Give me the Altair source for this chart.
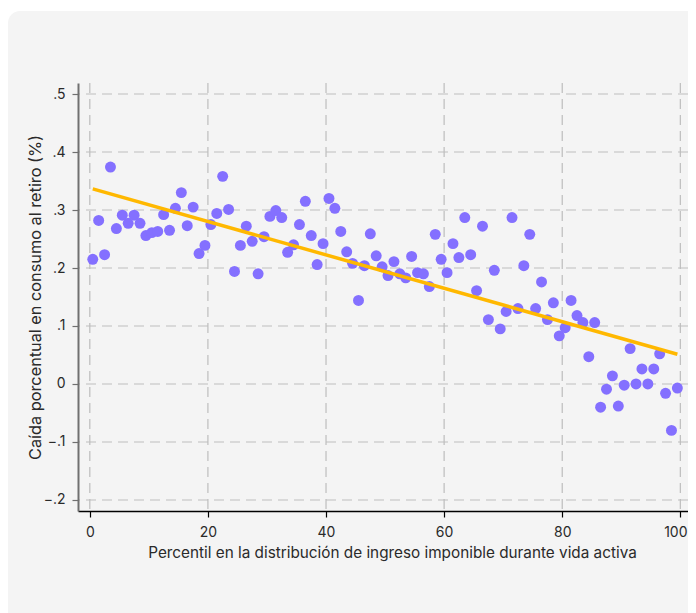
import altair as alt
import pandas as pd

# ---- data ----
percentil = [i + 0.5 for i in range(100)]
caida = [
    0.215, 0.282, 0.223, 0.374, 0.268, 0.291, 0.277, 0.291, 0.277, 0.256,
    0.261, 0.263, 0.292, 0.265, 0.303, 0.330, 0.273, 0.305, 0.225, 0.239,
    0.275, 0.294, 0.358, 0.301, 0.194, 0.239, 0.272, 0.246, 0.190, 0.254,
    0.289, 0.299, 0.287, 0.227, 0.240, 0.275, 0.315, 0.256, 0.206, 0.242,
    0.320, 0.303, 0.263, 0.228, 0.208, 0.144, 0.204, 0.259, 0.221, 0.202,
    0.187, 0.211, 0.190, 0.183, 0.220, 0.192, 0.190, 0.168, 0.258, 0.215,
    0.192, 0.242, 0.218, 0.287, 0.223, 0.161, 0.272, 0.111, 0.196, 0.095,
    0.125, 0.287, 0.130, 0.204, 0.258, 0.130, 0.176, 0.111, 0.140, 0.083,
    0.097, 0.144, 0.118, 0.106, 0.047, 0.106, -0.040, -0.009, 0.014, -0.038,
    -0.002, 0.061, 0.000, 0.026, 0.000, 0.026, 0.052, -0.016, -0.080, -0.007,
]
x_ticks = [0, 20, 40, 60, 80, 100]
y_ticks = [-0.2, -0.1, 0.0, 0.1, 0.2, 0.3, 0.4, 0.5]

x_title = "Percentil en la distribución de ingreso imponible durante vida activa"
y_title = "Caída porcentual en consumo al retiro (%)"

df = pd.DataFrame({"percentil": percentil, "caida": caida})

PAD_L, PAD_T = 70, 75
TOTAL_W, TOTAL_H = 680, 605
W, H = TOTAL_W - PAD_L, 428

FONT = "Inter"
TEXT = "#2a2a2a"

xscale = alt.Scale(domain=[-2, 101.3], nice=False, zero=False)
yscale = alt.Scale(domain=[-0.219, 0.519], nice=False, zero=False)

x_axis = alt.Axis(
    values=x_ticks,
    title=x_title,
    grid=False,
    format="d",
    domainColor="#000000",
    domainWidth=1.5,
    tickColor="#000000",
    tickWidth=1.2,
    tickSize=6,
    labelFont=FONT,
    labelFontSize=14,
    labelColor=TEXT,
    labelPadding=8,
    labelOffset={"condition": {"test": "datum.value == 100", "value": -5}, "value": 0},
    titleFont=FONT,
    titleFontSize=15.3,
    titleFontWeight="normal",
    titleColor=TEXT,
    titlePadding=6,
    titleX=W / 2 + 9,
    zindex=1,
)
y_axis = alt.Axis(
    values=y_ticks,
    title=y_title,
    grid=False,
    labelExpr="datum.value == 0 ? '0' : replace(replace(format(datum.value, '.1f'), '0.', '.'), '-', '\u2212')",
    domainColor="#707070",
    domainWidth=2,
    tickColor="#707070",
    tickWidth=1.2,
    tickSize=6,
    labelFont=FONT,
    labelFontSize=14,
    labelColor=TEXT,
    labelPadding=7,
    titleFont=FONT,
    titleFontSize=16.3,
    titleFontWeight="normal",
    titleColor=TEXT,
    titlePadding=0,
    zindex=1,
)

# card background panel (extends past the right/bottom edge so only the top-left corner is rounded)
card = alt.Chart(pd.DataFrame({"k": [0]})).mark_rect(
    fill="#f4f4f4", cornerRadius=12
).encode(
    x=alt.value(-PAD_L),
    x2=alt.value(TOTAL_W - PAD_L + 30),
    y=alt.value(-(PAD_T - 3)),
    y2=alt.value(TOTAL_H - PAD_T + 30),
)

grid_style = dict(color="#bdbdbd", strokeDash=[10, 6], strokeWidth=1.2)

vgrid = alt.Chart(pd.DataFrame({"percentil": x_ticks})).mark_rule(**grid_style).encode(
    x=alt.X("percentil:Q", scale=xscale, axis=x_axis)
)
hgrid = alt.Chart(pd.DataFrame({"caida": y_ticks})).mark_rule(**grid_style).encode(
    y=alt.Y("caida:Q", scale=yscale, axis=y_axis)
)

points = alt.Chart(df).mark_circle(
    color="#8470ff", size=120, opacity=1
).encode(
    x=alt.X("percentil:Q", scale=xscale, axis=x_axis),
    y=alt.Y("caida:Q", scale=yscale, axis=y_axis),
)

fit = alt.Chart(df).transform_regression(
    "percentil", "caida"
).mark_line(color="#ffb800", strokeWidth=3.5).encode(
    x=alt.X("percentil:Q", scale=xscale, axis=x_axis),
    y=alt.Y("caida:Q", scale=yscale, axis=y_axis),
)

chart = alt.layer(card, vgrid, hgrid, points, fit).properties(
    width=W,
    height=H,
    autosize=alt.AutoSizeParams(type="none"),
    padding={"left": PAD_L, "top": PAD_T, "right": TOTAL_W - PAD_L - W, "bottom": TOTAL_H - PAD_T - H},
    background="#ffffff",
).configure_view(stroke=None)

chart.save("out.html", embed_options={"renderer": "svg", "actions": False})
